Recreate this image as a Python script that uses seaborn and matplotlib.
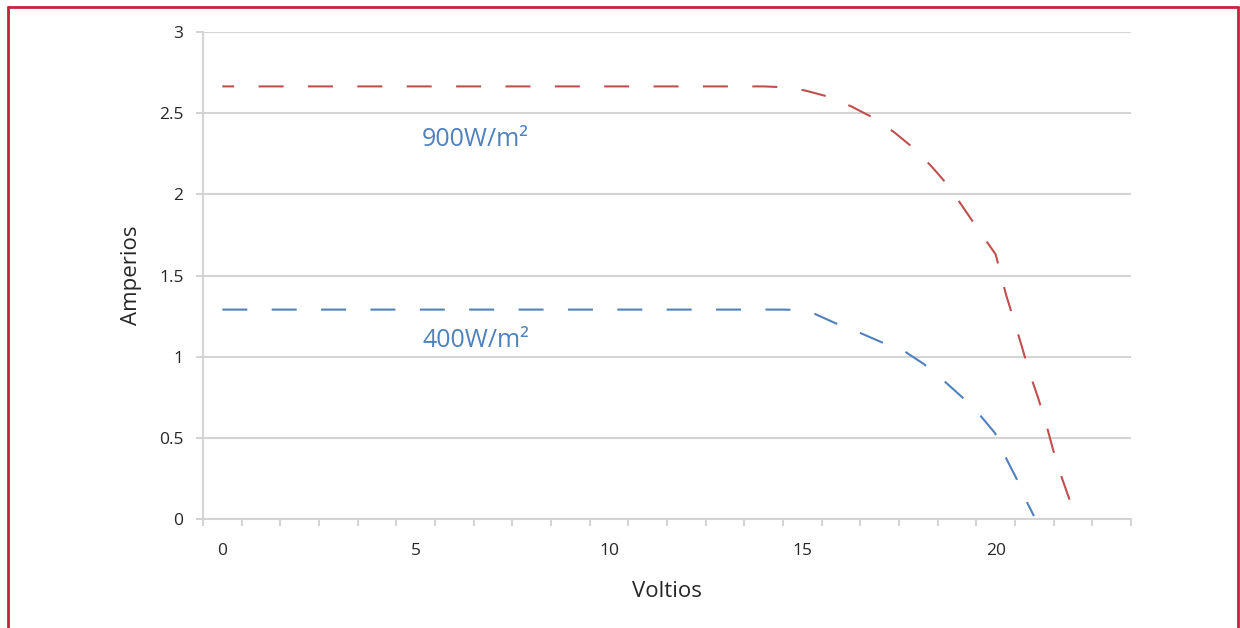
"""
Curva I-V de un panel solar a dos irradiancias (900 y 400 W/m2).
"""
import numpy as np
import pandas as pd
import matplotlib
matplotlib.use("Agg")
import matplotlib.pyplot as plt
import seaborn as sns
from matplotlib.lines import Line2D

# ---------------------------------------------------------
# DATOS
# ---------------------------------------------------------
volt_900 = [0, 14.0, 14.5, 15.07, 15.7, 16.28, 16.85, 17.39, 17.9, 18.35, 18.75,
            19.13, 19.5, 20.0, 20.27, 20.47, 20.68, 20.86, 21.09, 21.30, 21.48,
            21.66, 21.85, 22.03]
amp_900 = [2.665, 2.665, 2.66, 2.64, 2.60, 2.54, 2.47, 2.38, 2.28, 2.17, 2.06,
           1.93, 1.80, 1.63, 1.38, 1.227, 1.06, 0.911, 0.752, 0.591, 0.431,
           0.289, 0.16, 0.04]

volt_400 = [0, 14.5, 14.8, 15.27, 15.84, 16.44, 17.03, 17.63, 18.14, 18.64,
            19.13, 19.57, 19.98, 20.24, 20.53, 20.78, 20.99]
amp_400 = [1.29, 1.29, 1.288, 1.269, 1.208, 1.152, 1.091, 1.035, 0.955, 0.856,
           0.751, 0.647, 0.530, 0.388, 0.253, 0.117, 0.018]

x_labels = [0, 5, 10, 15, 20]
y_ticks = [0, 0.5, 1, 1.5, 2, 2.5, 3]
series_names = ["900W/m²", "400W/m²"]

RED = "#c0504d"
BLUE = "#4f81bd"
GRID = "#d4d4d4"
TXT = "#262626"

sns.set_style("white")
plt.rcParams["font.family"] = ["Open Sans", "DejaVu Sans"]

df900 = pd.DataFrame({"Voltios": volt_900, "Amperios": amp_900})
df400 = pd.DataFrame({"Voltios": volt_400, "Amperios": amp_400})

fig = plt.figure(figsize=(12.4, 6.28), dpi=100)
ax = fig.add_axes([0.1637, 0.1736, 0.7484, 0.7754])

# ---------------------------------------------------------
# CURVAS
# ---------------------------------------------------------
sns.lineplot(data=df900, x="Voltios", y="Amperios", ax=ax, color=RED,
             linewidth=1.5, sort=False, estimator=None)
ax.lines[-1].set_linestyle((6.3, (12, 11.7)))
sns.lineplot(data=df400, x="Voltios", y="Amperios", ax=ax, color=BLUE,
             linewidth=1.5, sort=False, estimator=None)
ax.lines[-1].set_linestyle((0, (12, 11.7)))

# ---------------------------------------------------------
# EJES
# ---------------------------------------------------------
ax.set_xlim(-0.5, 23.5)
ax.set_ylim(0, 3)
ax.set_yticks(y_ticks)
ax.set_yticklabels([f"{v:g}" for v in y_ticks])
ax.set_xticks(x_labels)
ax.set_xticklabels([str(v) for v in x_labels])
ax.set_xticks(np.arange(-0.5, 24, 1), minor=True)
ax.tick_params(axis="x", which="major", bottom=True, length=0, pad=17,
               labelsize=12.5, labelcolor=TXT)
ax.tick_params(axis="x", which="minor", bottom=True, length=5, width=1.5,
               color=GRID, direction="out")
ax.tick_params(axis="y", left=True, length=5, width=1.5, color=GRID, direction="out",
               pad=9, labelsize=12.5, labelcolor=TXT)

ax.grid(axis="y", color=GRID, linewidth=1.5)
ax.set_axisbelow(True)
for side in ["top", "right"]:
    ax.spines[side].set_visible(False)
for side in ["left", "bottom"]:
    ax.spines[side].set_color(GRID)
    ax.spines[side].set_linewidth(1.5)

ax.set_xlabel("Voltios", fontsize=16, color=TXT, labelpad=16)
ax.set_ylabel("Amperios", fontsize=16, color=TXT, labelpad=12)

# etiquetas de las series
ax.text(6.55, 2.34, series_names[0], color=BLUE, fontsize=18, ha="center", va="center")
ax.text(6.55, 1.10, series_names[1], color=BLUE, fontsize=18, ha="center", va="center")

# marco rojo
frame = "#c8213f"
fig.add_artist(Line2D([8 / 1240, 8 / 1240], [0, 1 - 7 / 628],
                      transform=fig.transFigure, color=frame, linewidth=2))
fig.add_artist(Line2D([8 / 1240, 1238 / 1240], [1 - 7 / 628, 1 - 7 / 628],
                      transform=fig.transFigure, color=frame, linewidth=2))
fig.add_artist(Line2D([1238 / 1240, 1238 / 1240], [0, 1 - 7 / 628],
                      transform=fig.transFigure, color=frame, linewidth=2))

fig.savefig("out.png", dpi=100)
plt.close(fig)
